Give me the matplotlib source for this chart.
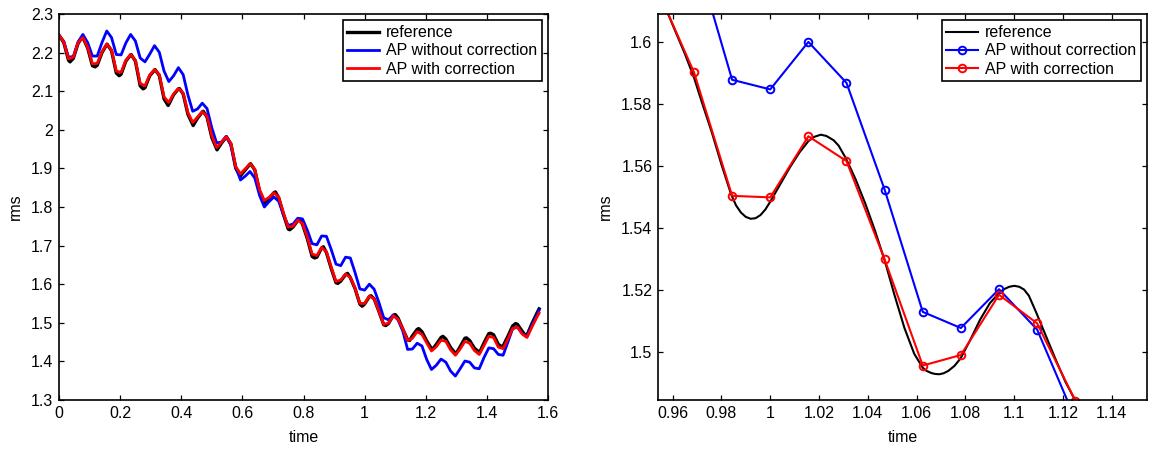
import numpy as np
import matplotlib.pyplot as plt
from matplotlib.ticker import FormatStrFormatter, MultipleLocator

plt.rcParams['font.family'] = ['Liberation Sans', 'DejaVu Sans']

# AP output times: steps of 1/64, last point at the final time pi/2
n_steps = 101
t_final = 1.5708

# AP with correction (red)
rms_with = [
    2.245, 2.228, 2.184, 2.188, 2.226, 2.239, 2.214, 2.171, 2.172, 2.202,
    2.222, 2.207, 2.152, 2.149, 2.180, 2.195, 2.180, 2.120, 2.114, 2.142,
    2.156, 2.143, 2.085, 2.071, 2.093, 2.107, 2.095, 2.045, 2.019, 2.033,
    2.047, 2.035, 1.985, 1.954, 1.967, 1.982, 1.965, 1.905, 1.886, 1.899,
    1.912, 1.898, 1.845, 1.817, 1.825, 1.837, 1.826, 1.785, 1.748, 1.750,
    1.766, 1.757, 1.722, 1.678, 1.674, 1.695, 1.684, 1.645, 1.607, 1.611,
    1.626, 1.618, 1.5902, 1.5504, 1.5499, 1.5696, 1.5616, 1.5299, 1.4957, 1.4991,
    1.5185, 1.5093, 1.4844, 1.454, 1.460, 1.477, 1.470, 1.448, 1.427, 1.438,
    1.455, 1.452, 1.430, 1.416, 1.432, 1.452, 1.447, 1.428, 1.418, 1.441,
    1.465, 1.462, 1.437, 1.433, 1.458, 1.485, 1.489, 1.471, 1.462, 1.488,
    1.513, 1.525]

# AP without correction (blue)
rms_without = [
    2.245, 2.229, 2.188, 2.190, 2.228, 2.247, 2.226, 2.191, 2.191, 2.226,
    2.256, 2.239, 2.195, 2.194, 2.225, 2.247, 2.230, 2.186, 2.176, 2.196,
    2.218, 2.201, 2.152, 2.125, 2.140, 2.161, 2.143, 2.090, 2.048, 2.054,
    2.069, 2.055, 2.005, 1.966, 1.968, 1.983, 1.960, 1.905, 1.870, 1.880,
    1.892, 1.875, 1.830, 1.800, 1.814, 1.826, 1.815, 1.780, 1.752, 1.756,
    1.771, 1.769, 1.740, 1.705, 1.702, 1.725, 1.724, 1.690, 1.652, 1.648,
    1.670, 1.668, 1.630, 1.5878, 1.5847, 1.6000, 1.5868, 1.5524, 1.5130, 1.5078,
    1.5203, 1.5073, 1.4785, 1.431, 1.432, 1.447, 1.440, 1.405, 1.379, 1.390,
    1.406, 1.398, 1.375, 1.362, 1.381, 1.401, 1.398, 1.383, 1.381, 1.410,
    1.435, 1.433, 1.418, 1.416, 1.450, 1.485, 1.489, 1.472, 1.464, 1.493,
    1.518, 1.532]

# reference read at the AP output times
ref_at_samples = [
    2.245, 2.226, 2.180, 2.185, 2.224, 2.239, 2.212, 2.166, 2.167, 2.200,
    2.221, 2.205, 2.147, 2.144, 2.178, 2.194, 2.178, 2.114, 2.109, 2.140,
    2.155, 2.141, 2.080, 2.066, 2.091, 2.106, 2.093, 2.040, 2.013, 2.030,
    2.046, 2.033, 1.980, 1.950, 1.965, 1.981, 1.963, 1.901, 1.881, 1.896,
    1.911, 1.896, 1.841, 1.811, 1.822, 1.837, 1.824, 1.781, 1.743, 1.748,
    1.765, 1.755, 1.718, 1.672, 1.670, 1.694, 1.682, 1.641, 1.604, 1.608,
    1.625, 1.617, 1.5885, 1.5485, 1.5487, 1.5680, 1.5619, 1.5293, 1.4948, 1.4980,
    1.5195, 1.5125, 1.4835, 1.456, 1.466, 1.483, 1.477, 1.453, 1.433, 1.444,
    1.462, 1.458, 1.436, 1.421, 1.438, 1.460, 1.454, 1.434, 1.424, 1.448,
    1.472, 1.469, 1.444, 1.440, 1.465, 1.492, 1.496, 1.478, 1.468, 1.497,
    1.523, 1.536]

# reference peaks and troughs between the output times
ref_ext_t = [0.036, 0.077, 0.118, 0.157, 0.197, 0.236, 0.275, 0.314, 0.357, 0.394,
             0.439, 0.472, 0.517, 0.548, 0.593, 0.627, 0.673, 0.708, 0.755, 0.788,
             0.836, 0.865, 0.912, 0.944, 0.992, 1.0207, 1.069, 1.100, 1.147, 1.177,
             1.223, 1.256, 1.299, 1.333, 1.376, 1.412, 1.447, 1.494, 1.526]
ref_ext_rms = [2.176, 2.241, 2.163, 2.222, 2.140, 2.195, 2.106, 2.156, 2.063, 2.107,
               2.011, 2.048, 1.948, 1.982, 1.879, 1.912, 1.809, 1.839, 1.741, 1.768,
               1.668, 1.697, 1.602, 1.628, 1.5429, 1.5701, 1.4929, 1.5214, 1.454, 1.485,
               1.432, 1.465, 1.420, 1.461, 1.423, 1.473, 1.439, 1.498, 1.467]

# reference, read finely inside the zoom window
ref_zoom_t = [0.955, 0.96, 0.965, 0.96875, 0.972, 0.976, 0.98, 0.984, 0.986, 0.988,
              0.990, 0.992, 0.994, 0.996, 0.998, 1.0, 1.004, 1.008, 1.012, 1.0156,
              1.018, 1.0207, 1.023, 1.026, 1.028, 1.031, 1.035, 1.039, 1.043, 1.047,
              1.051, 1.055, 1.059, 1.0625, 1.064, 1.066, 1.0675, 1.0693, 1.071, 1.073,
              1.0755, 1.078, 1.082, 1.086, 1.090, 1.094, 1.096, 1.098, 1.100, 1.102,
              1.104, 1.106, 1.109, 1.113, 1.117, 1.121, 1.126, 1.13]
ref_zoom_rms = [1.615, 1.6055, 1.5962, 1.5885, 1.5805, 1.5710, 1.5605, 1.5508, 1.5473, 1.5450,
                1.5436, 1.5430, 1.5432, 1.5442, 1.5460, 1.5485, 1.5540, 1.5595, 1.5644, 1.5680,
                1.5694, 1.5701, 1.5697, 1.5683, 1.5666, 1.5625, 1.5557, 1.5478, 1.5390, 1.5293,
                1.5182, 1.5078, 1.4995, 1.4950, 1.4940, 1.4933, 1.4930, 1.4929, 1.4932, 1.4940,
                1.4956, 1.4980, 1.5040, 1.5105, 1.5158, 1.5193, 1.5204, 1.5211, 1.5214, 1.5211,
                1.5202, 1.5182, 1.5128, 1.5052, 1.4976, 1.4904, 1.4830, 1.476]

t = np.append(np.arange(n_steps) / 64, t_final)
ref_t = np.concatenate([t, ref_ext_t])
ref_rms = np.concatenate([ref_at_samples, ref_ext_rms])
order = np.argsort(ref_t)
ref_t, ref_rms = ref_t[order], ref_rms[order]


def style(ax, xstep, ystep):
    ax.xaxis.set_major_locator(MultipleLocator(xstep))
    ax.yaxis.set_major_locator(MultipleLocator(ystep))
    ax.xaxis.set_major_formatter(FormatStrFormatter('%g'))
    ax.yaxis.set_major_formatter(FormatStrFormatter('%g'))
    ax.tick_params(direction='in', top=True, right=True, length=3.6, width=0.9,
                   labelsize=11.5, pad=4)
    for s in ax.spines.values():
        s.set_linewidth(1.2)
    ax.set_xlabel('time', fontsize=11.5, labelpad=7)
    ax.set_ylabel('rms', fontsize=11.5, labelpad=6)
    leg = ax.legend(loc='upper right', fontsize=11.5, fancybox=False, framealpha=1,
                    edgecolor='k', borderaxespad=0.4, handlelength=2.0,
                    handletextpad=0.4, labelspacing=0.2, borderpad=0.3)
    leg.get_frame().set_linewidth(1.2)


fig = plt.figure(figsize=(11.5, 4.49), dpi=100)

# full run
ax1 = fig.add_axes([59/1150, 49/449, 489/1150, 386/449])
ax1.plot(ref_t, ref_rms, 'k-', lw=2.4, label='reference')
ax1.plot(t, rms_without, 'b-', lw=2, label='AP without correction')
ax1.plot(t, rms_with, 'r-', lw=2, label='AP with correction')
ax1.set_xlim(0, 1.6)
ax1.set_ylim(1.3, 2.3)
style(ax1, 0.2, 0.1)

# zoom around t = 1
ax2 = fig.add_axes([658/1150, 49/449, 489/1150, 386/449])
ax2.plot(ref_zoom_t, ref_zoom_rms, 'k-', lw=1.5, label='reference')
ax2.plot(t, rms_without, 'b-o', lw=1.5, ms=5.5, mfc='none', mew=1.4,
         label='AP without correction')
ax2.plot(t, rms_with, 'r-o', lw=1.5, ms=5.5, mfc='none', mew=1.4,
         label='AP with correction')
ax2.set_xlim(0.954, 1.1544)
ax2.set_ylim(1.4846, 1.609)
style(ax2, 0.02, 0.02)

fig.savefig('out.png', dpi=100)
